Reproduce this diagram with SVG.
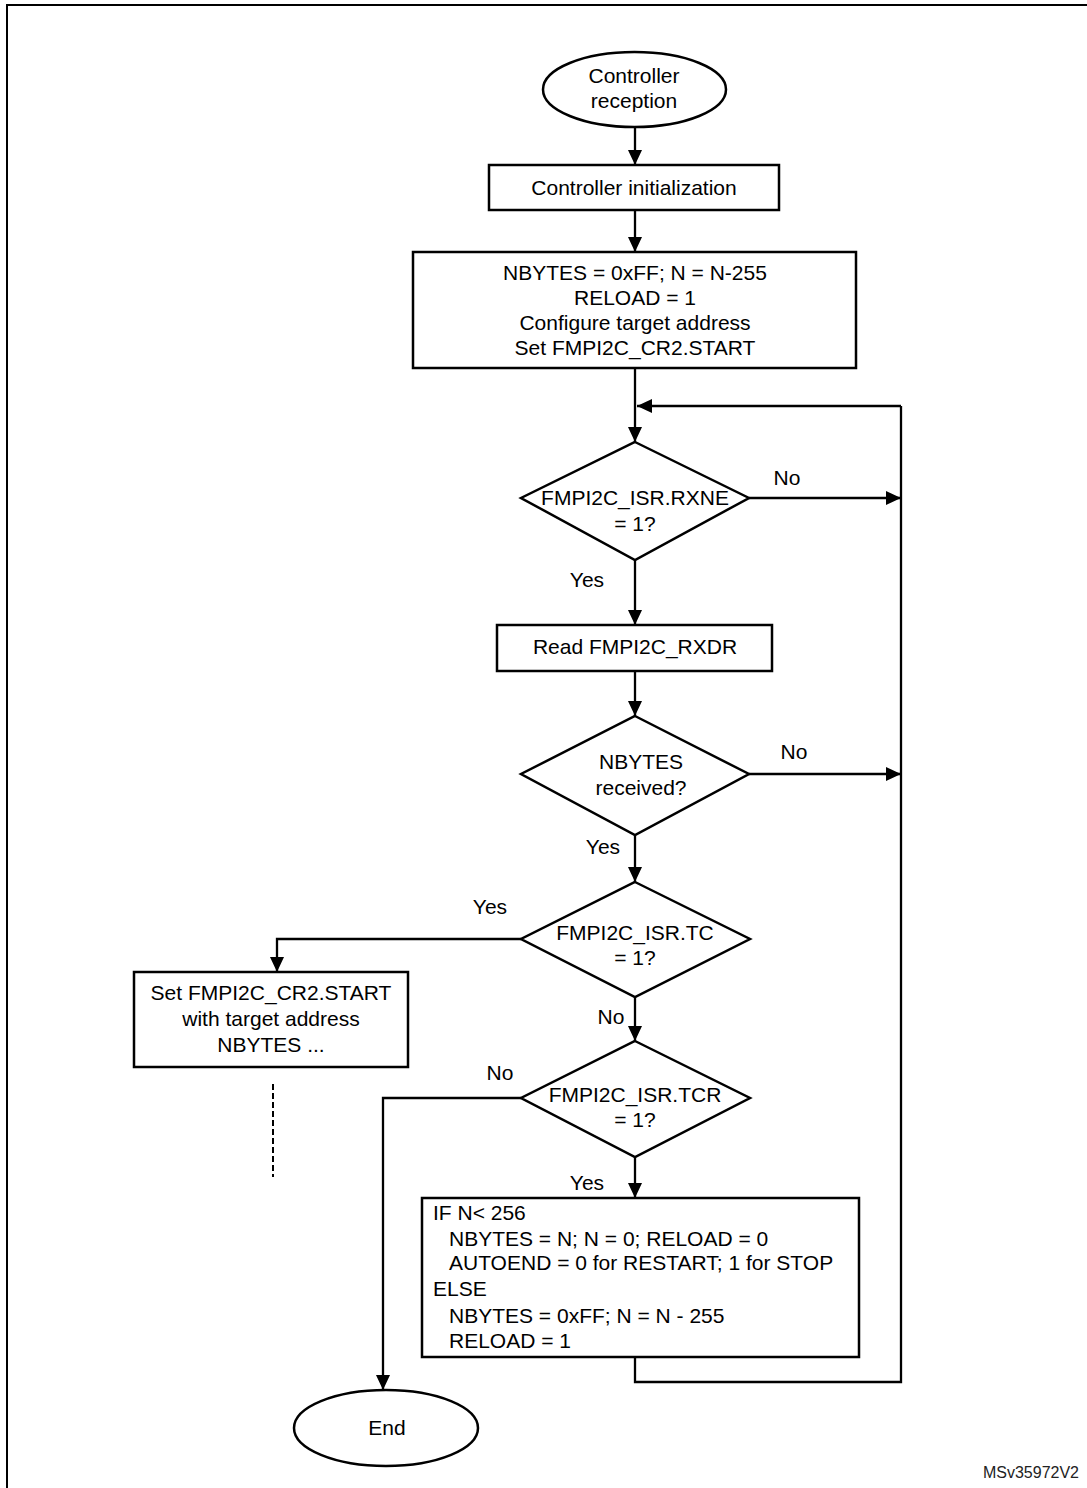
<svg xmlns="http://www.w3.org/2000/svg" width="1087" height="1488" viewBox="0 0 1087 1488">
<defs>
<style>
text{font-family:"Liberation Sans",Arial,sans-serif;font-size:21px;fill:#000}
.c{text-anchor:middle}
.shape{fill:#fff;stroke:#000;stroke-width:2.5}
.conn{fill:none;stroke:#000;stroke-width:2.3}
.dash{fill:none;stroke:#000;stroke-width:2;stroke-dasharray:6,3}
</style>
<marker id="ah" markerUnits="userSpaceOnUse" markerWidth="15" markerHeight="14" refX="15" refY="7" orient="auto">
<path d="M0,0 L15,7 L0,14 z" fill="#000"/>
</marker>
</defs>
<rect width="1087" height="1488" fill="#fff"/>
<path d="M7,1488 V5 H1087" fill="none" stroke="#000" stroke-width="2"/>

<g id="connectors">
<path class="conn" d="M635,127 V165" marker-end="url(#ah)"/>
<path class="conn" d="M635,210 V252" marker-end="url(#ah)"/>
<path class="conn" d="M635,368 V442" marker-end="url(#ah)"/>
<path class="conn" d="M901,406 H637" marker-end="url(#ah)"/>
<path class="conn" d="M749,498 H901" marker-end="url(#ah)"/>
<path class="conn" d="M635,560 V625" marker-end="url(#ah)"/>
<path class="conn" d="M635,671 V716" marker-end="url(#ah)"/>
<path class="conn" d="M749,774 H901" marker-end="url(#ah)"/>
<path class="conn" d="M635,835 V882" marker-end="url(#ah)"/>
<path class="conn" d="M521,939 H277 V972" marker-end="url(#ah)"/>
<path class="conn" d="M635,997 V1041" marker-end="url(#ah)"/>
<path class="conn" d="M521,1098 H383 V1390" marker-end="url(#ah)"/>
<path class="conn" d="M635,1157 V1198" marker-end="url(#ah)"/>
<path class="conn" d="M635,1357 V1382 H901 V406"/>
<path class="dash" d="M273,1084 V1177"/>
<text class="c" x="787" y="485">No</text>
<text class="c" x="587" y="587">Yes</text>
<text class="c" x="794" y="759">No</text>
<text class="c" x="603" y="854">Yes</text>
<text class="c" x="490" y="914">Yes</text>
<text class="c" x="611" y="1024">No</text>
<text class="c" x="500" y="1080">No</text>
<text class="c" x="587" y="1190">Yes</text>
</g>

<g id="start">
<ellipse class="shape" cx="634.5" cy="89.5" rx="91.5" ry="37.5"/>
<text class="c" x="634" y="83">Controller</text>
<text class="c" x="634" y="108">reception</text>
</g>

<g id="init">
<rect class="shape" x="489" y="165" width="290" height="45"/>
<text class="c" x="634" y="195">Controller initialization</text>
</g>

<g id="config">
<rect class="shape" x="413" y="252" width="443" height="116"/>
<text class="c" x="635" y="280">NBYTES = 0xFF; N = N-255</text>
<text class="c" x="635" y="305">RELOAD = 1</text>
<text class="c" x="635" y="330">Configure target address</text>
<text class="c" x="635" y="355">Set FMPI2C_CR2.START</text>
</g>

<g id="rxne">
<polygon class="shape" points="635,442 749,498 635,560 521,498"/>
<text class="c" x="635" y="505">FMPI2C_ISR.RXNE</text>
<text class="c" x="635" y="531">= 1?</text>
</g>

<g id="read">
<rect class="shape" x="497" y="625" width="275" height="46"/>
<text class="c" x="635" y="654">Read FMPI2C_RXDR</text>
</g>

<g id="nbytes">
<polygon class="shape" points="635,716 749,774 635,835 521,774"/>
<text class="c" x="641" y="769">NBYTES</text>
<text class="c" x="641" y="795">received?</text>
</g>

<g id="tc">
<polygon class="shape" points="635,882 750,939 635,997 521,939"/>
<text class="c" x="635" y="940">FMPI2C_ISR.TC</text>
<text class="c" x="635" y="965">= 1?</text>
</g>

<g id="restart">
<rect class="shape" x="134" y="972" width="274" height="95"/>
<text class="c" x="271" y="1000">Set FMPI2C_CR2.START</text>
<text class="c" x="271" y="1026">with target address</text>
<text class="c" x="271" y="1052">NBYTES ...</text>
</g>

<g id="tcr">
<polygon class="shape" points="635,1041 750,1098 635,1157 521,1098"/>
<text class="c" x="635" y="1102">FMPI2C_ISR.TCR</text>
<text class="c" x="635" y="1127">= 1?</text>
</g>

<g id="reload">
<rect class="shape" x="422" y="1198" width="437" height="159"/>
<text x="433" y="1220">IF N&lt; 256</text>
<text x="449" y="1246">NBYTES = N; N = 0; RELOAD = 0</text>
<text x="449" y="1270">AUTOEND = 0 for RESTART; 1 for STOP</text>
<text x="433" y="1296">ELSE</text>
<text x="449" y="1323">NBYTES = 0xFF; N = N - 255</text>
<text x="449" y="1348">RELOAD = 1</text>
</g>

<g id="end">
<ellipse class="shape" cx="386" cy="1428" rx="92" ry="38"/>
<text class="c" x="387" y="1435">End</text>
</g>

<text x="1079" y="1478" style="font-size:16px;text-anchor:end;fill:#222">MSv35972V2</text>
</svg>
